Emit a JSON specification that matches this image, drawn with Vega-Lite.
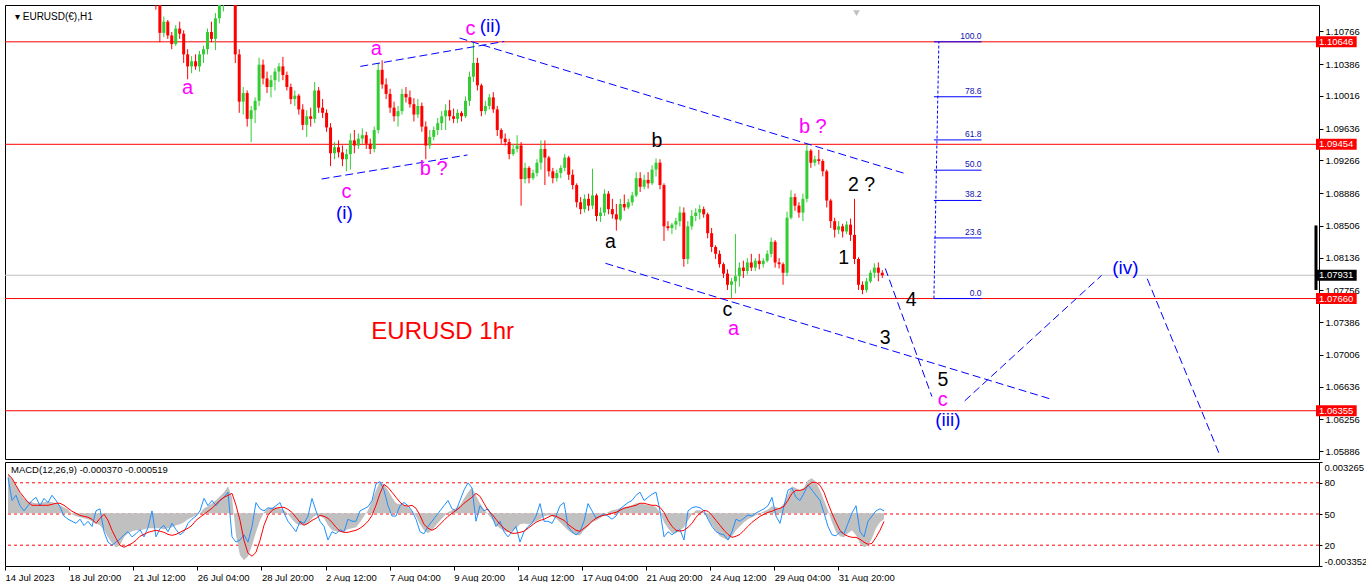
{
"$schema":"https://vega.github.io/schema/vega-lite/v6.json",
"background":"white",
"padding":{"left":4,"top":4,"right":0,"bottom":0},
"bounds":"flush",
"spacing":3,
"config":{"view":{"stroke":"#000000","strokeWidth":1},"axis":{"labelFont":"Liberation Sans","labelFontSize":9.5,"labelColor":"#000000","tickColor":"#000000","domain":false,"grid":false,"labelOverlap":false,"labelFlush":false,"labelBound":false},"text":{"font":"Liberation Sans"}},
"datasets":{
"cd":[
{"t":0,"o":1.1228,"h":1.124,"l":1.1222,"c":1.1235,"m":0.00248,"s":0.00248,"k":85},
{"t":4,"o":1.1235,"h":1.1245,"l":1.1226,"c":1.123,"m":0.00223,"s":0.00223,"k":63},
{"t":8,"o":1.123,"h":1.1238,"l":1.1218,"c":1.1222,"m":0.00178,"s":0.00178,"k":68},
{"t":12,"o":1.1222,"h":1.1232,"l":1.1215,"c":1.1228,"m":0.00127,"s":0.00134,"k":58},
{"t":16,"o":1.1228,"h":1.1235,"l":1.122,"c":1.1226,"m":0.00095,"s":0.00102,"k":53},
{"t":20,"o":1.1226,"h":1.1232,"l":1.1218,"c":1.1224,"m":0.00076,"s":0.0007,"k":58},
{"t":24,"o":1.1224,"h":1.1236,"l":1.1215,"c":1.1232,"m":0.0007,"s":0.00051,"k":63},
{"t":28,"o":1.1232,"h":1.125,"l":1.1228,"c":1.1245,"m":0.00064,"s":0.00051,"k":66},
{"t":32,"o":1.1245,"h":1.1252,"l":1.123,"c":1.1238,"m":0.00064,"s":0.00051,"k":58},
{"t":36,"o":1.1238,"h":1.1246,"l":1.1225,"c":1.124,"m":0.0007,"s":0.00051,"k":65},
{"t":40,"o":1.124,"h":1.1248,"l":1.1232,"c":1.1236,"m":0.00076,"s":0.00051,"k":61},
{"t":44,"o":1.1236,"h":1.1244,"l":1.1228,"c":1.124,"m":0.0007,"s":0.00057,"k":68},
{"t":48,"o":1.124,"h":1.1262,"l":1.1236,"c":1.1258,"m":0.00064,"s":0.00064,"k":63},
{"t":52,"o":1.1258,"h":1.1276,"l":1.125,"c":1.1262,"m":0.00051,"s":0.00064,"k":57},
{"t":56,"o":1.1262,"h":1.127,"l":1.124,"c":1.1248,"m":0.00038,"s":0.00051,"k":48},
{"t":60,"o":1.1248,"h":1.1256,"l":1.122,"c":1.1228,"m":0.00025,"s":0.00032,"k":45},
{"t":64,"o":1.1228,"h":1.1238,"l":1.1222,"c":1.1226,"m":-0.00006,"s":0.00013,"k":43},
{"t":68,"o":1.1226,"h":1.1232,"l":1.1202,"c":1.121,"m":-0.00019,"s":0,"k":41},
{"t":72,"o":1.121,"h":1.122,"l":1.1195,"c":1.1215,"m":-0.00025,"s":-0.00013,"k":45},
{"t":76,"o":1.1215,"h":1.1225,"l":1.1198,"c":1.1204,"m":-0.00032,"s":-0.00019,"k":39},
{"t":80,"o":1.1204,"h":1.1212,"l":1.119,"c":1.1198,"m":-0.00038,"s":-0.00025,"k":43},
{"t":84,"o":1.1198,"h":1.121,"l":1.1192,"c":1.1202,"m":-0.00051,"s":-0.00038,"k":38},
{"t":88,"o":1.1202,"h":1.1208,"l":1.1194,"c":1.12,"m":-0.00064,"s":-0.00064,"k":53},
{"t":92,"o":1.12,"h":1.1204,"l":1.118,"c":1.1186,"m":-0.00076,"s":-0.00032,"k":55},
{"t":96,"o":1.1186,"h":1.1196,"l":1.117,"c":1.1178,"m":-0.00108,"s":-0.00006,"k":33},
{"t":100,"o":1.1178,"h":1.1184,"l":1.115,"c":1.1158,"m":-0.00153,"s":-0.00045,"k":23},
{"t":104,"o":1.1158,"h":1.1166,"l":1.113,"c":1.1136,"m":-0.00191,"s":-0.00108,"k":20},
{"t":108,"o":1.1136,"h":1.1142,"l":1.112,"c":1.113,"m":-0.00216,"s":-0.00159,"k":23},
{"t":112,"o":1.113,"h":1.1138,"l":1.1122,"c":1.1128,"m":-0.00204,"s":-0.00204,"k":26},
{"t":116,"o":1.1128,"h":1.1136,"l":1.1118,"c":1.1125,"m":-0.00153,"s":-0.00216,"k":30},
{"t":120,"o":1.1125,"h":1.114,"l":1.112,"c":1.1134,"m":-0.00127,"s":-0.00204,"k":33},
{"t":124,"o":1.1134,"h":1.1148,"l":1.1125,"c":1.114,"m":-0.00114,"s":-0.00191,"k":28},
{"t":128,"o":1.114,"h":1.1146,"l":1.1118,"c":1.1124,"m":-0.00108,"s":-0.00172,"k":31},
{"t":132,"o":1.1124,"h":1.1132,"l":1.1116,"c":1.1126,"m":-0.00108,"s":-0.00146,"k":35},
{"t":136,"o":1.1126,"h":1.113,"l":1.1118,"c":1.1124,"m":-0.00102,"s":-0.00134,"k":28},
{"t":140,"o":1.1124,"h":1.113,"l":1.1112,"c":1.1118,"m":-0.00095,"s":-0.00121,"k":37},
{"t":144,"o":1.1118,"h":1.1124,"l":1.1102,"c":1.1108,"m":-0.00095,"s":-0.00114,"k":53},
{"t":148,"o":1.1108,"h":1.1118,"l":1.1064,"c":1.1075,"m":-0.00095,"s":-0.00108,"k":28},
{"t":152,"o":1.1075,"h":1.1094,"l":1.107,"c":1.1088,"m":-0.00095,"s":-0.00114,"k":36},
{"t":156,"o":1.1088,"h":1.109,"l":1.1068,"c":1.1072,"m":-0.00102,"s":-0.00121,"k":39},
{"t":160,"o":1.1072,"h":1.1076,"l":1.1056,"c":1.1062,"m":-0.00095,"s":-0.00134,"k":33},
{"t":164,"o":1.1062,"h":1.1084,"l":1.106,"c":1.108,"m":-0.00089,"s":-0.0014,"k":41},
{"t":168,"o":1.108,"h":1.1088,"l":1.1068,"c":1.1074,"m":-0.00076,"s":-0.00134,"k":35},
{"t":172,"o":1.1074,"h":1.1078,"l":1.104,"c":1.105,"m":-0.0007,"s":-0.00121,"k":30},
{"t":176,"o":1.105,"h":1.1056,"l":1.1021,"c":1.1036,"m":-0.00057,"s":-0.00108,"k":33},
{"t":180,"o":1.1036,"h":1.1048,"l":1.1028,"c":1.1042,"m":-0.00038,"s":-0.00095,"k":41},
{"t":184,"o":1.1042,"h":1.105,"l":1.1032,"c":1.1036,"m":-0.00025,"s":-0.00076,"k":45},
{"t":188,"o":1.1036,"h":1.1054,"l":1.103,"c":1.105,"m":-0.00013,"s":-0.00045,"k":48},
{"t":192,"o":1.105,"h":1.106,"l":1.104,"c":1.1056,"m":0,"s":-0.00025,"k":53},
{"t":196,"o":1.1056,"h":1.108,"l":1.105,"c":1.1076,"m":0.00032,"s":-0.00006,"k":65},
{"t":200,"o":1.1076,"h":1.1088,"l":1.1064,"c":1.1068,"m":0.00045,"s":0.00013,"k":58},
{"t":204,"o":1.1068,"h":1.1098,"l":1.1055,"c":1.1092,"m":0.00064,"s":0.00032,"k":63},
{"t":208,"o":1.1092,"h":1.1115,"l":1.1086,"c":1.1108,"m":0.00083,"s":0.00057,"k":58},
{"t":212,"o":1.1108,"h":1.113,"l":1.11,"c":1.1122,"m":0.00108,"s":0.00083,"k":63},
{"t":216,"o":1.1122,"h":1.114,"l":1.1112,"c":1.1135,"m":0.00134,"s":0.00102,"k":66},
{"t":220,"o":1.1135,"h":1.1149,"l":1.112,"c":1.1128,"m":0.00172,"s":0.00114,"k":71},
{"t":224,"o":1.1128,"h":1.1136,"l":1.104,"c":1.105,"m":0.00102,"s":0.00127,"k":28},
{"t":228,"o":1.105,"h":1.1056,"l":1.0982,"c":1.0995,"m":-0.0014,"s":0.00051,"k":23},
{"t":232,"o":1.0995,"h":1.1012,"l":1.098,"c":1.1005,"m":-0.00267,"s":-0.00045,"k":25},
{"t":236,"o":1.1005,"h":1.1008,"l":1.0966,"c":1.0975,"m":-0.00299,"s":-0.00172,"k":30},
{"t":240,"o":1.0975,"h":1.099,"l":1.0948,"c":1.0985,"m":-0.00273,"s":-0.00254,"k":23},
{"t":244,"o":1.0985,"h":1.1,"l":1.097,"c":1.0996,"m":-0.00204,"s":-0.00273,"k":38},
{"t":248,"o":1.0996,"h":1.1046,"l":1.099,"c":1.1038,"m":-0.00121,"s":-0.00248,"k":61},
{"t":252,"o":1.1038,"h":1.1044,"l":1.1015,"c":1.1022,"m":-0.00045,"s":-0.00172,"k":55},
{"t":256,"o":1.1022,"h":1.103,"l":1.1005,"c":1.1012,"m":0.00006,"s":-0.00076,"k":53},
{"t":260,"o":1.1012,"h":1.1026,"l":1.1,"c":1.102,"m":0.00032,"s":-0.00013,"k":56},
{"t":264,"o":1.102,"h":1.1034,"l":1.1008,"c":1.103,"m":0.00038,"s":0.00019,"k":55},
{"t":268,"o":1.103,"h":1.104,"l":1.1018,"c":1.1036,"m":0.00038,"s":0.00032,"k":58},
{"t":272,"o":1.1036,"h":1.1047,"l":1.102,"c":1.1026,"m":0.00032,"s":0.00038,"k":61},
{"t":276,"o":1.1026,"h":1.103,"l":1.1008,"c":1.1012,"m":0.00019,"s":0.00038,"k":51},
{"t":280,"o":1.1012,"h":1.1016,"l":1.0992,"c":1.0998,"m":-0.00006,"s":0.00025,"k":43},
{"t":284,"o":1.0998,"h":1.1008,"l":1.099,"c":1.1002,"m":-0.00038,"s":0.00006,"k":38},
{"t":288,"o":1.1002,"h":1.1004,"l":1.098,"c":1.0986,"m":-0.00064,"s":-0.00025,"k":33},
{"t":292,"o":1.0986,"h":1.0992,"l":1.0962,"c":1.0968,"m":-0.00076,"s":-0.00057,"k":43},
{"t":296,"o":1.0968,"h":1.0985,"l":1.0954,"c":1.0978,"m":-0.00076,"s":-0.00076,"k":41},
{"t":300,"o":1.0978,"h":1.0988,"l":1.0966,"c":1.0975,"m":-0.00064,"s":-0.00064,"k":48},
{"t":304,"o":1.0975,"h":1.1018,"l":1.097,"c":1.1008,"m":-0.00032,"s":-0.00045,"k":65},
{"t":308,"o":1.1008,"h":1.1012,"l":1.0982,"c":1.0988,"m":-0.00013,"s":-0.00032,"k":53},
{"t":312,"o":1.0988,"h":1.0998,"l":1.0976,"c":1.0982,"m":-0.00019,"s":-0.00013,"k":43},
{"t":316,"o":1.0982,"h":1.0986,"l":1.096,"c":1.0965,"m":-0.00032,"s":-0.00019,"k":38},
{"t":320,"o":1.0965,"h":1.097,"l":1.092,"c":1.0935,"m":-0.00076,"s":-0.00032,"k":25},
{"t":324,"o":1.0935,"h":1.0948,"l":1.0928,"c":1.0942,"m":-0.00108,"s":-0.00057,"k":33},
{"t":328,"o":1.0942,"h":1.095,"l":1.093,"c":1.0936,"m":-0.00114,"s":-0.00089,"k":31},
{"t":332,"o":1.0936,"h":1.0944,"l":1.092,"c":1.0928,"m":-0.00121,"s":-0.00114,"k":35},
{"t":336,"o":1.0928,"h":1.094,"l":1.0914,"c":1.0934,"m":-0.00114,"s":-0.00121,"k":33},
{"t":340,"o":1.0934,"h":1.0958,"l":1.0916,"c":1.095,"m":-0.00102,"s":-0.00121,"k":45},
{"t":344,"o":1.095,"h":1.0962,"l":1.0935,"c":1.0944,"m":-0.00095,"s":-0.00114,"k":43},
{"t":348,"o":1.0944,"h":1.0958,"l":1.094,"c":1.0952,"m":-0.00089,"s":-0.00108,"k":43},
{"t":352,"o":1.0952,"h":1.0964,"l":1.0946,"c":1.0956,"m":-0.00057,"s":-0.00095,"k":53},
{"t":356,"o":1.0956,"h":1.096,"l":1.094,"c":1.0946,"m":-0.00019,"s":-0.00076,"k":55},
{"t":360,"o":1.0946,"h":1.0952,"l":1.0934,"c":1.094,"m":0.00019,"s":-0.00051,"k":57},
{"t":364,"o":1.094,"h":1.0966,"l":1.0936,"c":1.0962,"m":0.00083,"s":-0.00013,"k":63},
{"t":368,"o":1.0962,"h":1.104,"l":1.0958,"c":1.1032,"m":0.00146,"s":0.00051,"k":79},
{"t":372,"o":1.1032,"h":1.1043,"l":1.101,"c":1.1015,"m":0.00204,"s":0.00127,"k":81},
{"t":376,"o":1.1015,"h":1.1022,"l":1.0998,"c":1.1004,"m":0.00184,"s":0.00184,"k":73},
{"t":380,"o":1.1004,"h":1.101,"l":1.0982,"c":1.0988,"m":0.00146,"s":0.00165,"k":58},
{"t":384,"o":1.0988,"h":1.0995,"l":1.0972,"c":1.0978,"m":0.00102,"s":0.00134,"k":48},
{"t":388,"o":1.0978,"h":1.099,"l":1.0966,"c":1.0984,"m":0.00064,"s":0.00102,"k":48},
{"t":392,"o":1.0984,"h":1.101,"l":1.098,"c":1.1004,"m":0.00057,"s":0.0007,"k":58},
{"t":396,"o":1.1004,"h":1.1012,"l":1.0994,"c":1.1,"m":0.00051,"s":0.00051,"k":61},
{"t":400,"o":1.1,"h":1.1008,"l":1.0988,"c":1.0992,"m":0.00038,"s":0.00045,"k":58},
{"t":404,"o":1.0992,"h":1.0999,"l":1.0972,"c":1.098,"m":0.00013,"s":0.00051,"k":53},
{"t":408,"o":1.098,"h":1.0998,"l":1.0976,"c":1.099,"m":-0.00019,"s":0.00032,"k":45},
{"t":412,"o":1.099,"h":1.0994,"l":1.096,"c":1.0966,"m":-0.0007,"s":-0.00013,"k":33},
{"t":416,"o":1.0966,"h":1.0972,"l":1.0928,"c":1.0944,"m":-0.00108,"s":-0.0007,"k":31},
{"t":420,"o":1.0944,"h":1.0962,"l":1.094,"c":1.0954,"m":-0.00127,"s":-0.00095,"k":38},
{"t":424,"o":1.0954,"h":1.0966,"l":1.095,"c":1.0962,"m":-0.00108,"s":-0.00108,"k":43},
{"t":428,"o":1.0962,"h":1.0976,"l":1.0956,"c":1.097,"m":-0.00076,"s":-0.00095,"k":48},
{"t":432,"o":1.097,"h":1.0984,"l":1.0962,"c":1.0978,"m":-0.00045,"s":-0.0007,"k":53},
{"t":436,"o":1.0978,"h":1.0992,"l":1.0962,"c":1.0985,"m":-0.00019,"s":-0.00045,"k":58},
{"t":440,"o":1.0985,"h":1.0997,"l":1.0973,"c":1.0978,"m":0.00006,"s":-0.00019,"k":63},
{"t":444,"o":1.0978,"h":1.0987,"l":1.097,"c":1.0975,"m":0.00019,"s":0,"k":55},
{"t":448,"o":1.0975,"h":1.0986,"l":1.097,"c":1.0982,"m":0.00032,"s":0.00019,"k":53},
{"t":452,"o":1.0982,"h":1.0984,"l":1.0972,"c":1.0978,"m":0.00051,"s":0.00038,"k":63},
{"t":456,"o":1.0978,"h":1.1001,"l":1.0976,"c":1.0996,"m":0.00095,"s":0.00064,"k":73},
{"t":460,"o":1.0996,"h":1.103,"l":1.099,"c":1.1024,"m":0.00134,"s":0.00083,"k":80},
{"t":464,"o":1.1024,"h":1.1064,"l":1.1018,"c":1.104,"m":0.00165,"s":0.00102,"k":75},
{"t":468,"o":1.104,"h":1.1046,"l":1.1008,"c":1.1014,"m":0.00114,"s":0.00127,"k":43},
{"t":472,"o":1.1014,"h":1.1016,"l":1.0978,"c":1.0984,"m":0.00064,"s":0.00108,"k":58},
{"t":476,"o":1.0984,"h":1.0996,"l":1.098,"c":1.099,"m":0.00025,"s":0.00064,"k":53},
{"t":480,"o":1.099,"h":1.1004,"l":1.0986,"c":1.1,"m":-0.00006,"s":0.00019,"k":55},
{"t":484,"o":1.1,"h":1.1006,"l":1.0982,"c":1.0986,"m":-0.00038,"s":-0.00006,"k":48},
{"t":488,"o":1.0986,"h":1.099,"l":1.0955,"c":1.0962,"m":-0.00076,"s":-0.00038,"k":38},
{"t":492,"o":1.0962,"h":1.0964,"l":1.0946,"c":1.0952,"m":-0.00095,"s":-0.0007,"k":43},
{"t":496,"o":1.0952,"h":1.0958,"l":1.0944,"c":1.0948,"m":-0.00114,"s":-0.00095,"k":33},
{"t":500,"o":1.0948,"h":1.0952,"l":1.0928,"c":1.0934,"m":-0.00121,"s":-0.00114,"k":28},
{"t":504,"o":1.0934,"h":1.0946,"l":1.0932,"c":1.094,"m":-0.00114,"s":-0.00127,"k":33},
{"t":508,"o":1.094,"h":1.0956,"l":1.0936,"c":1.0944,"m":-0.00095,"s":-0.00127,"k":38},
{"t":512,"o":1.0944,"h":1.0948,"l":1.0874,"c":1.0905,"m":-0.0007,"s":-0.00121,"k":23},
{"t":516,"o":1.0905,"h":1.0924,"l":1.09,"c":1.0918,"m":-0.00064,"s":-0.00114,"k":33},
{"t":520,"o":1.0918,"h":1.092,"l":1.09,"c":1.0906,"m":-0.0007,"s":-0.00095,"k":38},
{"t":524,"o":1.0906,"h":1.0916,"l":1.0904,"c":1.0912,"m":-0.00064,"s":-0.00076,"k":41},
{"t":528,"o":1.0912,"h":1.0928,"l":1.0908,"c":1.0924,"m":-0.00051,"s":-0.00057,"k":48},
{"t":532,"o":1.0924,"h":1.095,"l":1.0916,"c":1.094,"m":-0.00038,"s":-0.00045,"k":60},
{"t":536,"o":1.094,"h":1.095,"l":1.0898,"c":1.093,"m":-0.00019,"s":-0.00038,"k":43},
{"t":540,"o":1.093,"h":1.0932,"l":1.0908,"c":1.0914,"m":-0.00013,"s":-0.00025,"k":43},
{"t":544,"o":1.0914,"h":1.0918,"l":1.09,"c":1.0906,"m":-0.00019,"s":-0.00013,"k":41},
{"t":548,"o":1.0906,"h":1.0916,"l":1.0902,"c":1.0912,"m":-0.00032,"s":-0.00019,"k":48},
{"t":552,"o":1.0912,"h":1.0921,"l":1.0906,"c":1.0918,"m":-0.00057,"s":-0.00032,"k":58},
{"t":556,"o":1.0918,"h":1.0934,"l":1.0914,"c":1.093,"m":-0.00083,"s":-0.00045,"k":61},
{"t":560,"o":1.093,"h":1.0932,"l":1.0904,"c":1.091,"m":-0.00108,"s":-0.0007,"k":38},
{"t":564,"o":1.091,"h":1.0916,"l":1.0893,"c":1.0898,"m":-0.00127,"s":-0.00089,"k":33},
{"t":568,"o":1.0898,"h":1.09,"l":1.0872,"c":1.0878,"m":-0.0014,"s":-0.00108,"k":30},
{"t":572,"o":1.0878,"h":1.0884,"l":1.0864,"c":1.087,"m":-0.0014,"s":-0.00114,"k":33},
{"t":576,"o":1.087,"h":1.0887,"l":1.0866,"c":1.0882,"m":-0.00108,"s":-0.00095,"k":43},
{"t":580,"o":1.0882,"h":1.0888,"l":1.0868,"c":1.0874,"m":-0.00083,"s":-0.00076,"k":60},
{"t":584,"o":1.0874,"h":1.0917,"l":1.087,"c":1.0886,"m":-0.00057,"s":-0.00051,"k":53},
{"t":588,"o":1.0886,"h":1.0888,"l":1.0856,"c":1.0862,"m":-0.00045,"s":-0.00032,"k":46},
{"t":592,"o":1.0862,"h":1.0872,"l":1.0855,"c":1.0866,"m":-0.00032,"s":-0.00019,"k":48},
{"t":596,"o":1.0866,"h":1.0893,"l":1.0862,"c":1.0888,"m":-0.00013,"s":-0.00013,"k":50},
{"t":600,"o":1.0888,"h":1.0891,"l":1.0864,"c":1.087,"m":0.00006,"s":-0.00006,"k":48},
{"t":604,"o":1.087,"h":1.0882,"l":1.0859,"c":1.0864,"m":0.00019,"s":0,"k":45},
{"t":608,"o":1.0864,"h":1.0876,"l":1.0845,"c":1.0858,"m":0.00025,"s":0.00006,"k":48},
{"t":612,"o":1.0858,"h":1.0882,"l":1.0856,"c":1.0876,"m":0.00032,"s":0.00019,"k":55},
{"t":616,"o":1.0876,"h":1.0887,"l":1.0868,"c":1.0872,"m":0.00038,"s":0.00032,"k":58},
{"t":620,"o":1.0872,"h":1.0882,"l":1.087,"c":1.0878,"m":0.00045,"s":0.00038,"k":61},
{"t":624,"o":1.0878,"h":1.089,"l":1.0874,"c":1.0886,"m":0.00051,"s":0.00045,"k":63},
{"t":628,"o":1.0886,"h":1.0913,"l":1.0884,"c":1.0906,"m":0.00064,"s":0.00051,"k":68},
{"t":632,"o":1.0906,"h":1.0913,"l":1.089,"c":1.0896,"m":0.00064,"s":0.00064,"k":71},
{"t":636,"o":1.0896,"h":1.091,"l":1.0893,"c":1.0904,"m":0.00057,"s":0.00064,"k":63},
{"t":640,"o":1.0904,"h":1.0913,"l":1.0894,"c":1.09,"m":0.00051,"s":0.00057,"k":66},
{"t":644,"o":1.09,"h":1.0921,"l":1.0898,"c":1.0916,"m":0.00051,"s":0.00051,"k":69},
{"t":648,"o":1.0916,"h":1.0929,"l":1.0908,"c":1.0924,"m":0.00038,"s":0.00051,"k":71},
{"t":652,"o":1.0924,"h":1.0928,"l":1.0893,"c":1.0898,"m":0.00006,"s":0.00038,"k":53},
{"t":656,"o":1.0898,"h":1.09,"l":1.0833,"c":1.085,"m":-0.00057,"s":0.00006,"k":28},
{"t":660,"o":1.085,"h":1.0856,"l":1.0845,"c":1.0848,"m":-0.00095,"s":-0.00045,"k":33},
{"t":664,"o":1.0848,"h":1.0854,"l":1.0841,"c":1.0852,"m":-0.00127,"s":-0.00083,"k":30},
{"t":668,"o":1.0852,"h":1.086,"l":1.0846,"c":1.0856,"m":-0.00127,"s":-0.00108,"k":33},
{"t":672,"o":1.0856,"h":1.0873,"l":1.085,"c":1.0866,"m":-0.00108,"s":-0.00114,"k":35},
{"t":676,"o":1.0866,"h":1.0872,"l":1.0803,"c":1.0812,"m":-0.00089,"s":-0.00108,"k":25},
{"t":680,"o":1.0812,"h":1.0856,"l":1.0806,"c":1.085,"m":-0.00045,"s":-0.00089,"k":53},
{"t":684,"o":1.085,"h":1.0869,"l":1.0846,"c":1.0862,"m":-0.00006,"s":-0.00064,"k":56},
{"t":688,"o":1.0862,"h":1.0871,"l":1.0856,"c":1.0866,"m":0.00019,"s":-0.00025,"k":57},
{"t":692,"o":1.0866,"h":1.0875,"l":1.0858,"c":1.087,"m":0.00019,"s":0,"k":56},
{"t":696,"o":1.087,"h":1.0873,"l":1.086,"c":1.0864,"m":0.00006,"s":0.00019,"k":53},
{"t":700,"o":1.0864,"h":1.0866,"l":1.0836,"c":1.0842,"m":-0.00032,"s":0.00013,"k":45},
{"t":704,"o":1.0842,"h":1.0848,"l":1.082,"c":1.0826,"m":-0.00076,"s":-0.00013,"k":38},
{"t":708,"o":1.0826,"h":1.0828,"l":1.0812,"c":1.0818,"m":-0.00114,"s":-0.00045,"k":33},
{"t":712,"o":1.0818,"h":1.0822,"l":1.0802,"c":1.0806,"m":-0.00146,"s":-0.00076,"k":31},
{"t":716,"o":1.0806,"h":1.0808,"l":1.079,"c":1.0795,"m":-0.00159,"s":-0.00108,"k":30},
{"t":720,"o":1.0795,"h":1.08,"l":1.0776,"c":1.0782,"m":-0.00172,"s":-0.00134,"k":25},
{"t":724,"o":1.0782,"h":1.079,"l":1.0766,"c":1.0786,"m":-0.00146,"s":-0.00153,"k":33},
{"t":728,"o":1.0786,"h":1.0841,"l":1.0772,"c":1.0792,"m":-0.00108,"s":-0.00146,"k":45},
{"t":732,"o":1.0792,"h":1.0808,"l":1.078,"c":1.0802,"m":-0.00083,"s":-0.00134,"k":43},
{"t":736,"o":1.0802,"h":1.081,"l":1.079,"c":1.0798,"m":-0.00057,"s":-0.00108,"k":46},
{"t":740,"o":1.0798,"h":1.0813,"l":1.0794,"c":1.0808,"m":-0.00038,"s":-0.00083,"k":49},
{"t":744,"o":1.0808,"h":1.0818,"l":1.0798,"c":1.0802,"m":-0.00025,"s":-0.00057,"k":48},
{"t":748,"o":1.0802,"h":1.0813,"l":1.0798,"c":1.081,"m":-0.00013,"s":-0.00038,"k":51},
{"t":752,"o":1.081,"h":1.0818,"l":1.08,"c":1.0806,"m":0,"s":-0.00019,"k":53},
{"t":756,"o":1.0806,"h":1.0813,"l":1.0802,"c":1.081,"m":0.00013,"s":-0.00006,"k":55},
{"t":760,"o":1.081,"h":1.0822,"l":1.0808,"c":1.0818,"m":0.00025,"s":0.00006,"k":58},
{"t":764,"o":1.0818,"h":1.0837,"l":1.0814,"c":1.0832,"m":0.00045,"s":0.00013,"k":66},
{"t":768,"o":1.0832,"h":1.0834,"l":1.0802,"c":1.0808,"m":0.00038,"s":0.00025,"k":48},
{"t":772,"o":1.0808,"h":1.0813,"l":1.0801,"c":1.0806,"m":0.00032,"s":0.00032,"k":41},
{"t":776,"o":1.0806,"h":1.0808,"l":1.0782,"c":1.0796,"m":0.00064,"s":0.00045,"k":58},
{"t":780,"o":1.0796,"h":1.0867,"l":1.0792,"c":1.086,"m":0.00121,"s":0.00083,"k":73},
{"t":784,"o":1.086,"h":1.0892,"l":1.0858,"c":1.0884,"m":0.00172,"s":0.00127,"k":75},
{"t":788,"o":1.0884,"h":1.0888,"l":1.0868,"c":1.0874,"m":0.00159,"s":0.00146,"k":66},
{"t":792,"o":1.0874,"h":1.0878,"l":1.086,"c":1.0866,"m":0.00146,"s":0.00146,"k":63},
{"t":796,"o":1.0866,"h":1.0888,"l":1.0856,"c":1.0882,"m":0.00165,"s":0.00153,"k":70},
{"t":800,"o":1.0882,"h":1.0946,"l":1.0878,"c":1.0938,"m":0.0021,"s":0.00178,"k":78},
{"t":804,"o":1.0938,"h":1.094,"l":1.0918,"c":1.0924,"m":0.00223,"s":0.00197,"k":73},
{"t":808,"o":1.0924,"h":1.0932,"l":1.092,"c":1.0928,"m":0.00197,"s":0.00197,"k":68},
{"t":812,"o":1.0928,"h":1.0939,"l":1.0922,"c":1.0926,"m":0.00146,"s":0.00178,"k":63},
{"t":816,"o":1.0926,"h":1.0928,"l":1.0908,"c":1.0914,"m":0.00083,"s":0.00134,"k":51},
{"t":820,"o":1.0914,"h":1.0916,"l":1.0872,"c":1.088,"m":0.00019,"s":0.00064,"k":38},
{"t":824,"o":1.088,"h":1.0882,"l":1.0848,"c":1.0856,"m":-0.00057,"s":0,"k":30},
{"t":828,"o":1.0856,"h":1.086,"l":1.0837,"c":1.0846,"m":-0.00121,"s":-0.00057,"k":29},
{"t":832,"o":1.0846,"h":1.0856,"l":1.0841,"c":1.085,"m":-0.00146,"s":-0.00108,"k":33},
{"t":836,"o":1.085,"h":1.0853,"l":1.0837,"c":1.0844,"m":-0.00153,"s":-0.00134,"k":31},
{"t":840,"o":1.0844,"h":1.0856,"l":1.0841,"c":1.0852,"m":-0.00127,"s":-0.00146,"k":41},
{"t":844,"o":1.0852,"h":1.0859,"l":1.0833,"c":1.084,"m":-0.00108,"s":-0.00153,"k":51},
{"t":848,"o":1.084,"h":1.0882,"l":1.0806,"c":1.0812,"m":-0.0014,"s":-0.00153,"k":58},
{"t":852,"o":1.0812,"h":1.0814,"l":1.0776,"c":1.0782,"m":-0.00191,"s":-0.00165,"k":33},
{"t":856,"o":1.0782,"h":1.0786,"l":1.0771,"c":1.0776,"m":-0.00216,"s":-0.00184,"k":28},
{"t":860,"o":1.0776,"h":1.079,"l":1.0773,"c":1.0786,"m":-0.00204,"s":-0.00197,"k":43},
{"t":864,"o":1.0786,"h":1.0799,"l":1.0784,"c":1.0796,"m":-0.00159,"s":-0.00191,"k":48},
{"t":868,"o":1.0796,"h":1.0807,"l":1.079,"c":1.0802,"m":-0.00095,"s":-0.00153,"k":53},
{"t":872,"o":1.0802,"h":1.0808,"l":1.0786,"c":1.0796,"m":-0.00057,"s":-0.00108,"k":55},
{"t":876,"o":1.0796,"h":1.0799,"l":1.079,"c":1.0793,"m":-0.00037,"s":-0.00052,"k":53}
],
"lv":[{"p":1.10646},{"p":1.09454},{"p":1.0766},{"p":1.06355}],
"cur":[{"p":1.07931}],
"tl":[
{"t1":311,"p1":1.0905,"t2":458,"p2":1.0933},
{"t1":350,"p1":1.1036,"t2":495,"p2":1.1065},
{"t1":450,"p1":1.1069,"t2":900,"p2":1.0911},
{"t1":597,"p1":1.0807,"t2":1046,"p2":1.0649},
{"t1":879,"p1":1.0801,"t2":926,"p2":1.0652},
{"t1":959,"p1":1.0647,"t2":1097,"p2":1.0793},
{"t1":1143,"p1":1.0789,"t2":1216,"p2":1.0584}
],
"fib":[{"r":"100.0","p":1.10646},{"r":"78.6","p":1.10007},{"r":"61.8","p":1.09505},{"r":"50.0","p":1.09153},{"r":"38.2","p":1.08801},{"r":"23.6","p":1.08365},{"r":"0.0","p":1.0766}],
"wv":[
{"t":176,"p":1.1011,"txt":"a","deg":"subminuette"},
{"t":336,"p":1.089,"txt":"c","deg":"subminuette"},
{"t":334,"p":1.0865,"txt":"(i)","deg":"minuette"},
{"t":366,"p":1.1056,"txt":"a","deg":"subminuette"},
{"t":424,"p":1.0917,"txt":"b ?","deg":"subminuette"},
{"t":461,"p":1.108,"txt":"c","deg":"subminuette"},
{"t":481,"p":1.1083,"txt":"(ii)","deg":"minuette"},
{"t":649,"p":1.0949,"txt":"b","deg":"micro"},
{"t":602,"p":1.0832,"txt":"a","deg":"micro"},
{"t":720,"p":1.0753,"txt":"c","deg":"micro"},
{"t":726,"p":1.0731,"txt":"a","deg":"subminuette"},
{"t":806,"p":1.0966,"txt":"b ?","deg":"subminuette"},
{"t":855,"p":1.0898,"txt":"2 ?","deg":"micro"},
{"t":837,"p":1.0813,"txt":"1","deg":"micro"},
{"t":905,"p":1.0764,"txt":"4","deg":"micro"},
{"t":879,"p":1.072,"txt":"3","deg":"micro"},
{"t":937,"p":1.0671,"txt":"5","deg":"micro"},
{"t":937,"p":1.0648,"txt":"c","deg":"subminuette"},
{"t":942,"p":1.0625,"txt":"(iii)","deg":"minuette"},
{"t":1121,"p":1.0801,"txt":"(iv)","deg":"minuette"}
]
},
"vconcat":[
{
"width":1314,"height":454,
"resolve":{"axis":{"y":"independent"}},
"layer":[
{"data":{"name":"lv"},"mark":{"type":"rule","color":"#ff0000","strokeWidth":1},
 "encoding":{"y":{"field":"p","type":"quantitative","scale":{"domain":[1.05852,1.11016],"nice":false,"zero":false},
 "axis":{"orient":"right","title":null,"values":[1.10766,1.10386,1.10016,1.09636,1.09266,1.08886,1.08506,1.08136,1.07756,1.07386,1.07006,1.06636,1.06256,1.05886],"format":".5f","tickSize":4,"labelPadding":2,"labelOverlap":false,"labelFlush":false,"labelBound":false}}}},
{"data":{"name":"cur"},"mark":{"type":"rule","color":"#c0c0c0","strokeWidth":1},
 "encoding":{"y":{"field":"p","type":"quantitative","scale":{"domain":[1.05852,1.11016],"nice":false,"zero":false},"axis":null}}},
{"data":{"name":"cd"},"mark":{"type":"rule","clip":true,"strokeWidth":1},
 "encoding":{"x":{"field":"t","type":"quantitative","scale":{"domain":[-3,1311],"nice":false,"zero":false},"axis":null},
 "y":{"field":"l","type":"quantitative","scale":{"domain":[1.05852,1.11016],"nice":false,"zero":false},"axis":null},
 "y2":{"field":"h"},
 "color":{"condition":{"test":"datum.c >= datum.o","value":"#32cd32"},"value":"#ff0000"}}},
{"data":{"name":"cd"},"mark":{"type":"bar","clip":true,"orient":"vertical","size":3},
 "encoding":{"x":{"field":"t","type":"quantitative","scale":{"domain":[-3,1311],"nice":false,"zero":false},"axis":null},
 "y":{"field":"o","type":"quantitative","scale":{"domain":[1.05852,1.11016],"nice":false,"zero":false},"axis":null},
 "y2":{"field":"c"},
 "color":{"condition":{"test":"datum.c >= datum.o","value":"#32cd32"},"value":"#ff0000"}}},
{"data":{"name":"tl"},"mark":{"type":"rule","clip":true,"color":"#0000ff","strokeWidth":1,"strokeDash":[8,4]},
 "encoding":{"x":{"field":"t1","type":"quantitative","scale":{"domain":[-3,1311],"nice":false,"zero":false},"axis":null},
 "x2":{"field":"t2"},
 "y":{"field":"p1","type":"quantitative","scale":{"domain":[1.05852,1.11016],"nice":false,"zero":false},"axis":null},
 "y2":{"field":"p2"}}},
{"data":{"values":[{"t1":928,"p1":1.0766,"t2":933,"p2":1.10646}]},"mark":{"type":"rule","color":"#0000ff","strokeWidth":1,"strokeDash":[3,2]},
 "encoding":{"x":{"field":"t1","type":"quantitative","scale":{"domain":[-3,1311],"nice":false,"zero":false},"axis":null},
 "x2":{"field":"t2"},
 "y":{"field":"p1","type":"quantitative","scale":{"domain":[1.05852,1.11016],"nice":false,"zero":false},"axis":null},
 "y2":{"field":"p2"}}},
{"data":{"name":"fib"},"mark":{"type":"rule","color":"#0000ff","strokeWidth":1},
 "encoding":{"x":{"datum":928,"type":"quantitative","scale":{"domain":[-3,1311],"nice":false,"zero":false},"axis":null},
 "x2":{"datum":976},
 "y":{"field":"p","type":"quantitative","scale":{"domain":[1.05852,1.11016],"nice":false,"zero":false},"axis":null}}},
{"data":{"name":"fib"},"mark":{"type":"text","align":"right","baseline":"bottom","dy":-1,"fontSize":8.5,"color":"#1010b0"},
 "encoding":{"x":{"datum":976,"type":"quantitative","scale":{"domain":[-3,1311],"nice":false,"zero":false},"axis":null},
 "y":{"field":"p","type":"quantitative","scale":{"domain":[1.05852,1.11016],"nice":false,"zero":false},"axis":null},
 "text":{"field":"r"}}},
{"data":{"name":"wv"},"mark":{"type":"text","align":"center","baseline":"middle","font":"Liberation Sans"},
 "encoding":{"x":{"field":"t","type":"quantitative","scale":{"domain":[-3,1311],"nice":false,"zero":false},"axis":null},
 "y":{"field":"p","type":"quantitative","scale":{"domain":[1.05852,1.11016],"nice":false,"zero":false},"axis":null},
 "text":{"field":"txt"},
 "color":{"field":"deg","type":"nominal","scale":{"domain":["subminuette","micro","minuette"],"range":["#ff00ff","#000000","#0000ff"]},"legend":null},
 "size":{"field":"deg","type":"ordinal","scale":{"domain":["subminuette","micro","minuette"],"range":[20,19,17.5]},"legend":null}}},
{"data":{"values":[{"t":433,"p":1.0727,"txt":"EURUSD 1hr"}]},"mark":{"type":"text","align":"center","baseline":"middle","fontSize":24,"color":"#ff0000"},
 "encoding":{"x":{"field":"t","type":"quantitative","scale":{"domain":[-3,1311],"nice":false,"zero":false},"axis":null},
 "y":{"field":"p","type":"quantitative","scale":{"domain":[1.05852,1.11016],"nice":false,"zero":false},"axis":null},
 "text":{"field":"txt"}}},
{"data":{"values":[{"t":2,"p":1.1093,"txt":"▾ EURUSD(€),H1"}]},"mark":{"type":"text","align":"left","baseline":"middle","fontSize":10,"color":"#000000"},
 "encoding":{"x":{"field":"t","type":"quantitative","scale":{"domain":[-3,1311],"nice":false,"zero":false},"axis":null},
 "y":{"field":"p","type":"quantitative","scale":{"domain":[1.05852,1.11016],"nice":false,"zero":false},"axis":null},
 "text":{"field":"txt"}}},
{"data":{"values":[{"t":850,"p":1.1098}]},"mark":{"type":"point","shape":"triangle-down","filled":true,"size":45,"color":"#c0c0c0","opacity":1},
 "encoding":{"x":{"field":"t","type":"quantitative","scale":{"domain":[-3,1311],"nice":false,"zero":false},"axis":null},
 "y":{"field":"p","type":"quantitative","scale":{"domain":[1.05852,1.11016],"nice":false,"zero":false},"axis":null}}},
{"data":{"values":[{"p1":1.0851,"p2":1.0776}]},"mark":{"type":"rule","color":"#000000","strokeWidth":3},
 "encoding":{"x":{"datum":1313,"type":"quantitative","scale":{"domain":[-3,1311],"nice":false,"zero":false},"axis":null},
 "y":{"field":"p1","type":"quantitative","scale":{"domain":[1.05852,1.11016],"nice":false,"zero":false},"axis":null},
 "y2":{"field":"p2"}}},
{"data":{"name":"lv"},"mark":{"type":"bar","orient":"horizontal","size":11,"color":"#ff0000"},
 "encoding":{"x":{"datum":1313,"type":"quantitative","scale":{"domain":[-3,1311],"nice":false,"zero":false},"axis":null},
 "x2":{"datum":1354},
 "y":{"field":"p","type":"quantitative","scale":{"domain":[1.05852,1.11016],"nice":false,"zero":false},"axis":null}}},
{"data":{"name":"cur"},"mark":{"type":"bar","orient":"horizontal","size":11,"color":"#000000"},
 "encoding":{"x":{"datum":1313,"type":"quantitative","scale":{"domain":[-3,1311],"nice":false,"zero":false},"axis":null},
 "x2":{"datum":1354},
 "y":{"field":"p","type":"quantitative","scale":{"domain":[1.05852,1.11016],"nice":false,"zero":false},"axis":null}}},
{"data":{"name":"lv"},"mark":{"type":"text","align":"left","baseline":"middle","dx":3,"fontSize":9.5,"color":"#ffffff"},
 "encoding":{"x":{"datum":1313,"type":"quantitative","scale":{"domain":[-3,1311],"nice":false,"zero":false},"axis":null},
 "y":{"field":"p","type":"quantitative","scale":{"domain":[1.05852,1.11016],"nice":false,"zero":false},"axis":null},
 "text":{"field":"p","type":"quantitative","format":".5f"}}},
{"data":{"name":"cur"},"mark":{"type":"text","align":"left","baseline":"middle","dx":3,"fontSize":9.5,"color":"#ffffff"},
 "encoding":{"x":{"datum":1313,"type":"quantitative","scale":{"domain":[-3,1311],"nice":false,"zero":false},"axis":null},
 "y":{"field":"p","type":"quantitative","scale":{"domain":[1.05852,1.11016],"nice":false,"zero":false},"axis":null},
 "text":{"field":"p","type":"quantitative","format":".5f"}}}
]
},
{
"width":1314,"height":104,
"resolve":{"scale":{"y":"independent"}},
"layer":[
{"data":{"values":[{"v":80},{"v":50},{"v":20}]},"mark":{"type":"rule","color":"#ff0000","strokeWidth":1,"strokeDash":[3,3]},
 "encoding":{"y":{"field":"v","type":"quantitative","scale":{"domain":[0,100],"nice":false,"zero":false},"axis":null}}},
{"data":{"name":"cd"},"mark":{"type":"area","color":"#c0c0c0","opacity":1},
 "encoding":{"x":{"field":"t","type":"quantitative","scale":{"domain":[-3,1311],"nice":false,"zero":false},
 "axis":{"orient":"bottom","title":null,"values":[-3,61.1,125.2,189.3,253.4,317.5,381.6,445.7,509.8,573.9,638,702.1,766.2,830.3],
 "labelExpr":"['14 Jul 2023','18 Jul 20:00','21 Jul 12:00','26 Jul 04:00','28 Jul 20:00','2 Aug 12:00','7 Aug 04:00','9 Aug 20:00','14 Aug 12:00','17 Aug 04:00','21 Aug 20:00','24 Aug 12:00','29 Aug 04:00','31 Aug 20:00'][round((datum.value+3)/64.1)]",
 "labelAlign":"left","labelOverlap":false,"labelFlush":false,"tickSize":4,"labelPadding":2}},
 "y":{"field":"m","type":"quantitative","scale":{"domain":[-0.003352,0.003265],"nice":false,"zero":false},"axis":null},
 "y2":{"datum":0}}},
{"data":{"name":"cd"},"mark":{"type":"line","color":"#1e90ff","strokeWidth":1},
 "encoding":{"x":{"field":"t","type":"quantitative","scale":{"domain":[-3,1311],"nice":false,"zero":false}},
 "y":{"field":"k","type":"quantitative","scale":{"domain":[0,100],"nice":false,"zero":false},
 "axis":{"orient":"right","title":null,"values":[100,80,50,20,0],"tickSize":3,"labelPadding":2,"labelOverlap":false,"labelFlush":false,
 "labelExpr":"datum.value == 100 ? '0.003265' : datum.value == 0 ? '-0.003352' : datum.label",
 "labelBaseline":{"condition":[{"test":"datum.value == 100","value":"top"},{"test":"datum.value == 0","value":"bottom"}],"value":"middle"}}}}},
{"data":{"name":"cd"},"mark":{"type":"line","color":"#ff0000","strokeWidth":1},
 "encoding":{"x":{"field":"t","type":"quantitative","scale":{"domain":[-3,1311],"nice":false,"zero":false}},
 "y":{"field":"s","type":"quantitative","scale":{"domain":[-0.003352,0.003265],"nice":false,"zero":false},"axis":null}}},
{"data":{"values":[{"t":3,"v":92,"txt":"MACD(12,26,9) -0.000370 -0.000519"}]},"mark":{"type":"text","align":"left","baseline":"middle","fontSize":9.5,"color":"#000000"},
 "encoding":{"x":{"field":"t","type":"quantitative","scale":{"domain":[-3,1311],"nice":false,"zero":false}},
 "y":{"field":"v","type":"quantitative","scale":{"domain":[0,100],"nice":false,"zero":false},"axis":null},
 "text":{"field":"txt"}}}
]
}
]
}
